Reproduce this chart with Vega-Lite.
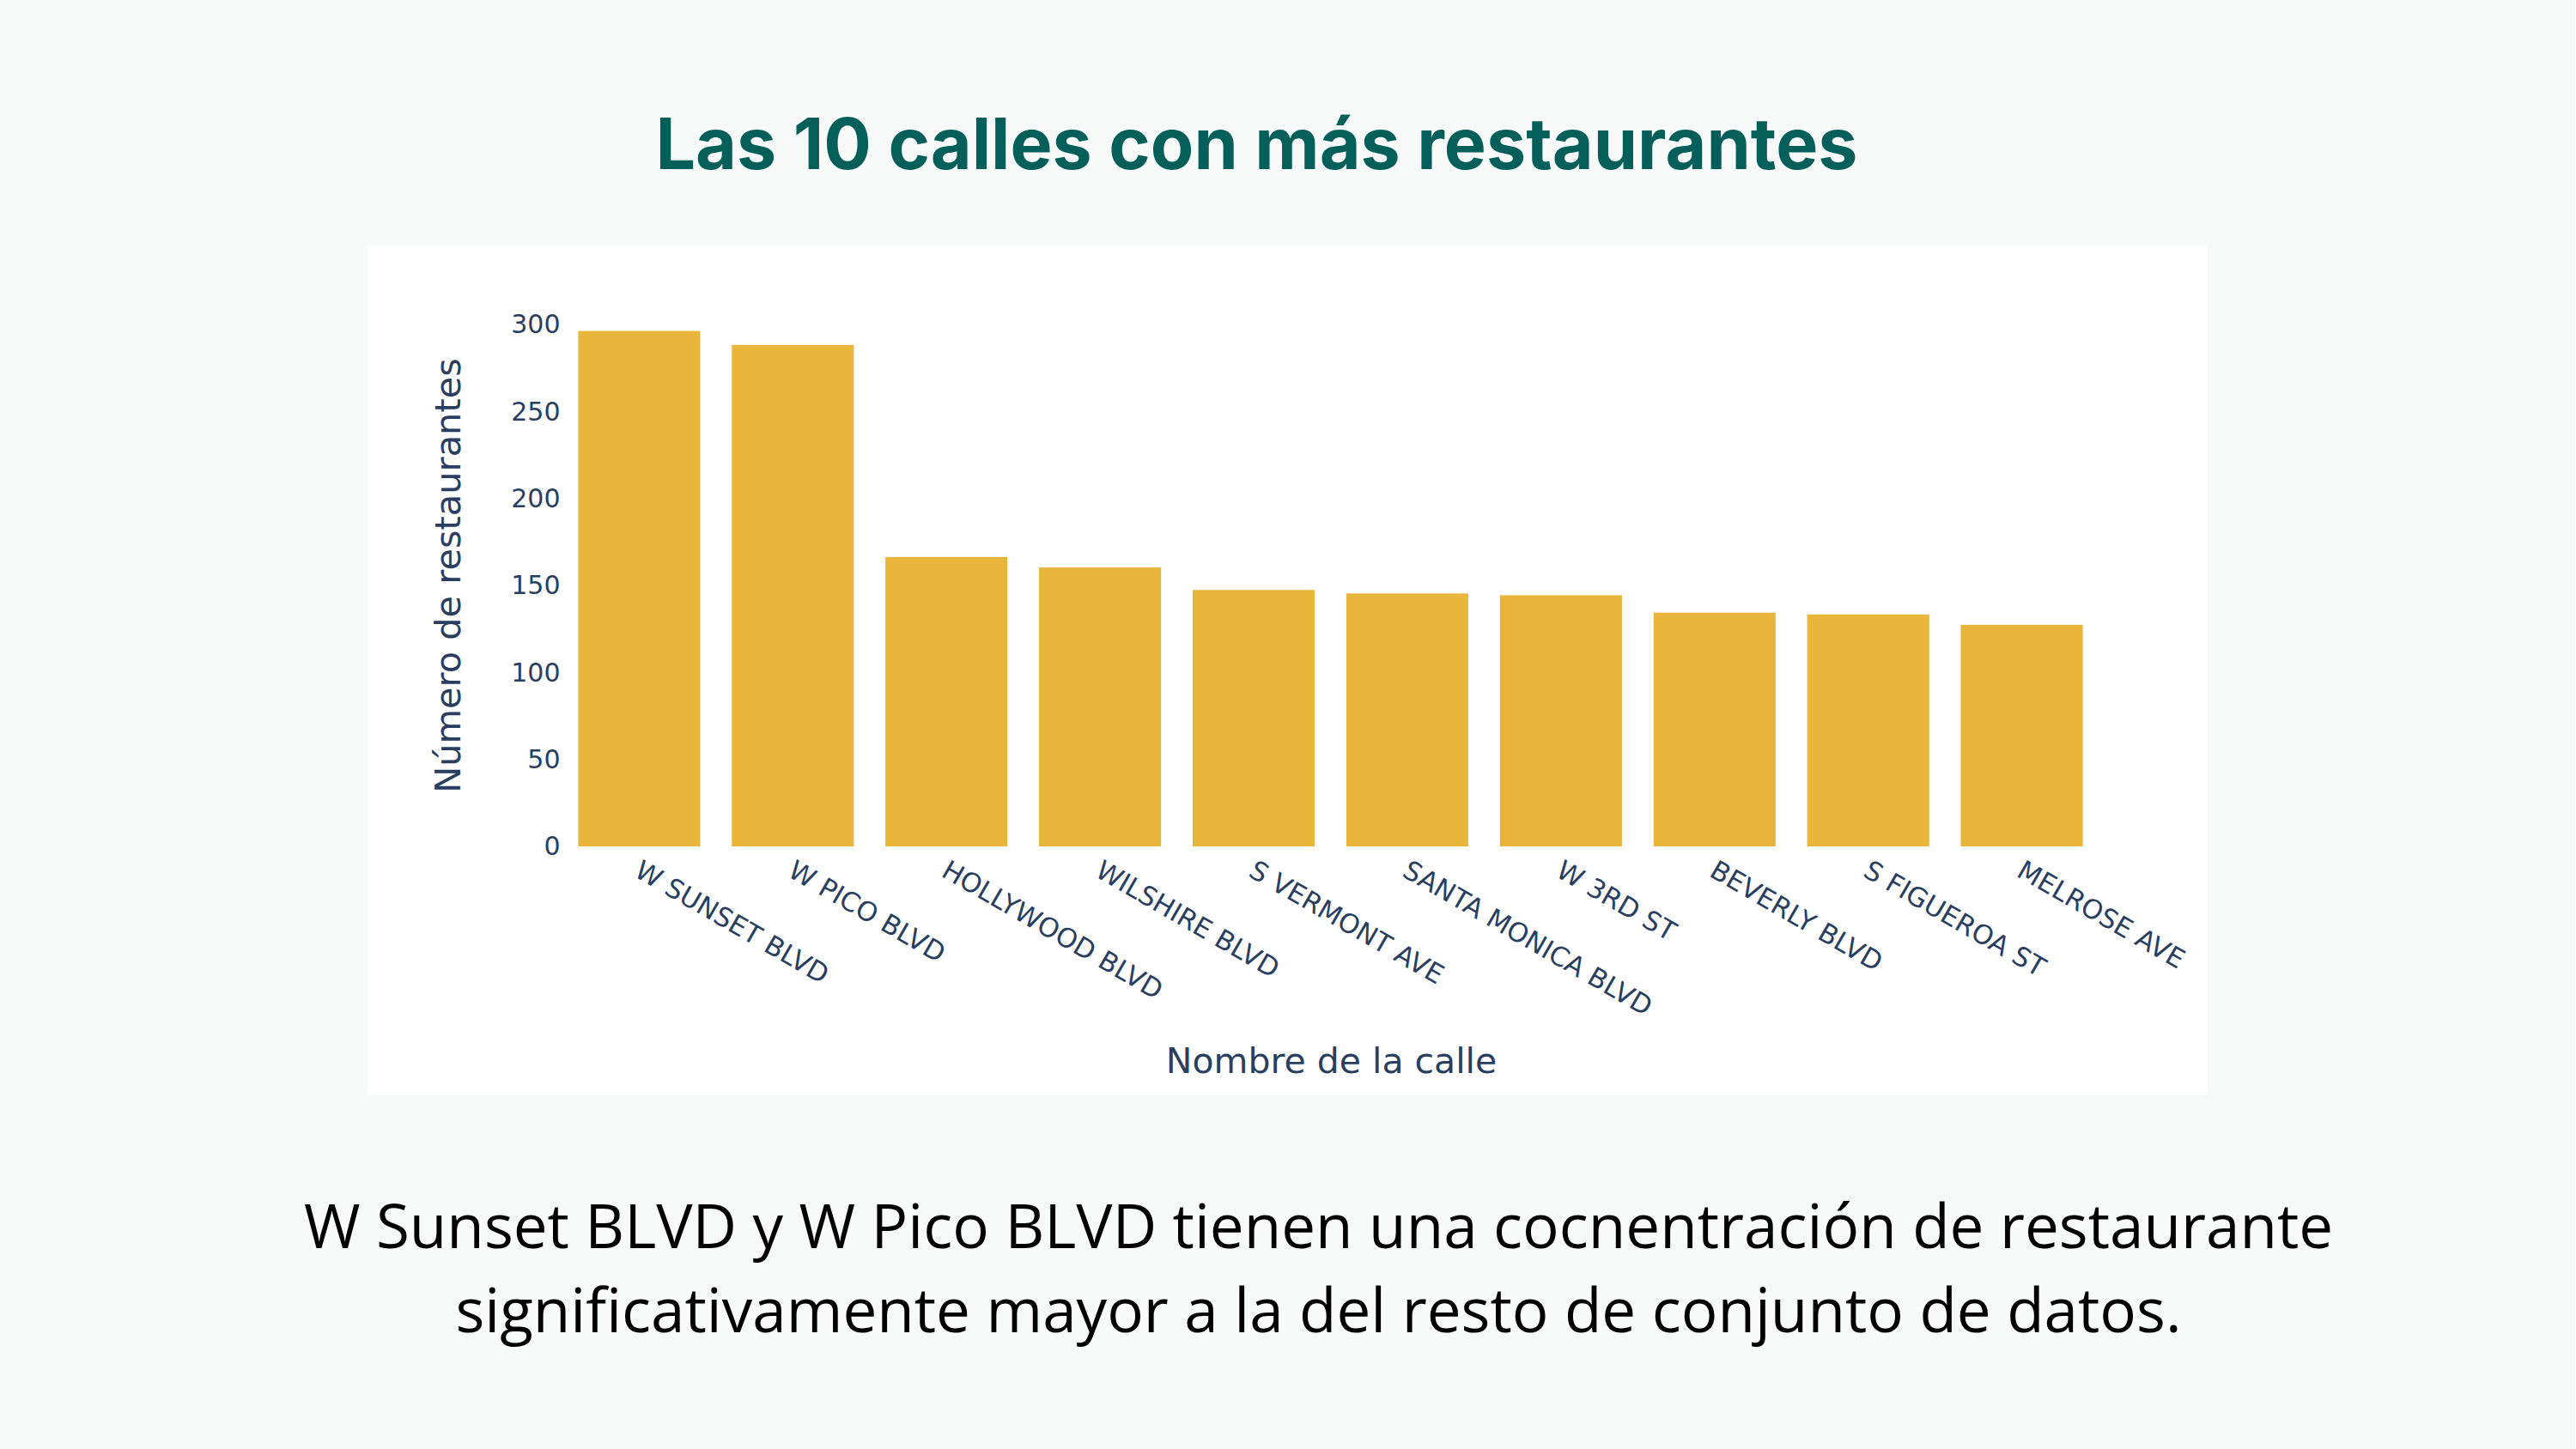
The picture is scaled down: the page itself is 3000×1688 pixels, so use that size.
{
  "$schema": "https://vega.github.io/schema/vega-lite/v6.json",
  "background": "#f8faf9",
  "padding": {"left": 353, "right": 281, "top": 130, "bottom": 184.5},
  "title": {
    "text": "Las 10 calles con más restaurantes",
    "orient": "top",
    "anchor": "middle",
    "frame": "bounds",
    "dx": -72,
    "offset": 7,
    "baseline": "alphabetic",
    "font": "Inter",
    "fontSize": 82.5,
    "fontWeight": "bold",
    "color": "#045f5b"
  },
  "config": {"concat": {"spacing": 0}},
  "vconcat": [
    {
      "width": 2143,
      "height": 990,
      "view": {"fill": "#ffffff", "stroke": null},
      "title": {
        "text": [
          "W Sunset BLVD y W Pico BLVD tienen una cocnentración de restaurante",
          "significativamente mayor a la del resto de conjunto de datos."
        ],
        "orient": "bottom",
        "anchor": "middle",
        "frame": "group",
        "dx": 36,
        "offset": 122,
        "baseline": "top",
        "font": "Open Sans",
        "fontSize": 71,
        "fontWeight": "normal",
        "lineHeight": 98,
        "color": "#000000"
      },
      "data": {
        "values": [
          {"calle": "W SUNSET BLVD", "restaurantes": 297},
          {"calle": "W PICO BLVD", "restaurantes": 289},
          {"calle": "HOLLYWOOD BLVD", "restaurantes": 167},
          {"calle": "WILSHIRE BLVD", "restaurantes": 161},
          {"calle": "S VERMONT AVE", "restaurantes": 148},
          {"calle": "SANTA MONICA BLVD", "restaurantes": 146},
          {"calle": "W 3RD ST", "restaurantes": 145},
          {"calle": "BEVERLY BLVD", "restaurantes": 135},
          {"calle": "S FIGUEROA ST", "restaurantes": 134},
          {"calle": "MELROSE AVE", "restaurantes": 128}
        ]
      },
      "mark": {"type": "bar", "color": "#E9B53A", "stroke": "#ffffff", "strokeWidth": 1},
      "encoding": {
        "x": {
          "field": "calle",
          "type": "nominal",
          "sort": null,
          "scale": {"range": [227, 2016], "paddingInner": 0.2, "paddingOuter": 0.1},
          "axis": {
            "orient": "bottom",
            "offset": -289.4,
            "domain": false,
            "ticks": false,
            "grid": false,
            "labelAngle": 30,
            "labelAlign": "left",
            "labelBaseline": "top",
            "labelPadding": 12,
            "labelOffset": 4.5,
            "labelFont": "DejaVu Sans",
            "labelFontSize": 31,
            "labelColor": "#2a3f5f",
            "labelOverlap": false,
            "labelLimit": 0,
            "title": "Nombre de la calle",
            "titleFont": "DejaVu Sans",
            "titleFontSize": 41,
            "titleFontWeight": "normal",
            "titleColor": "#2a3f5f",
            "titleBaseline": "alphabetic",
            "titleAlign": "center",
            "titleX": 1122,
            "titleY": 263
          }
        },
        "y": {
          "field": "restaurantes",
          "type": "quantitative",
          "scale": {"domain": [-142.9, 345.9], "nice": false, "zero": false},
          "axis": {
            "orient": "left",
            "offset": -228,
            "values": [0, 50, 100, 150, 200, 250, 300],
            "domain": false,
            "ticks": false,
            "grid": false,
            "labelPadding": 4,
            "labelFont": "DejaVu Sans",
            "labelFontSize": 30,
            "labelColor": "#2a3f5f",
            "title": "Número de restaurantes",
            "titleFont": "DejaVu Sans",
            "titleFontSize": 41.5,
            "titleFontWeight": "normal",
            "titleColor": "#2a3f5f",
            "titleBaseline": "alphabetic",
            "titleAlign": "center",
            "titleAngle": -90,
            "titleX": -121,
            "titleY": 384
          }
        }
      }
    }
  ]
}
